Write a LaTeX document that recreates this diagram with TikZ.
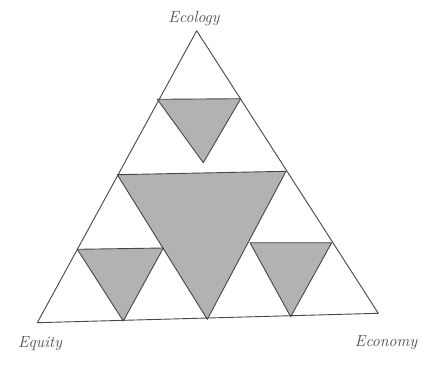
\documentclass[tikz,border=0pt]{standalone}
\begin{document}
\begin{tikzpicture}[x=1pt,y=-1pt,
  edge/.style={draw=black!72,line width=0.9pt,line join=round},
  shade/.style={fill=black!30},
  lbl/.style={font=\fontsize{16}{19}\selectfont\itshape,text=black!70,inner sep=0pt}]
\useasboundingbox (0,0) rectangle (424,368);
\fill[white] (0,0) rectangle (424,368);
% main corners
\coordinate (A) at (196.7,30.7);
\coordinate (B) at (37.3,322.7);
\coordinate (C) at (378.3,313.3);
% midpoints
\coordinate (L) at (117.3,174.7);
\coordinate (R) at (286,171.3);
\coordinate (M) at (207.3,319.3);
% top sub
\coordinate (T1) at (157.3,99.3);
\coordinate (T2) at (240.7,98.7);
\coordinate (T3) at (203.3,162.7);
% bottom-left sub
\coordinate (P1) at (77.3,249.3);
\coordinate (P2) at (163.3,248);
\coordinate (P3) at (123.3,321);
% bottom-right sub
\coordinate (Q1) at (250,242.7);
\coordinate (Q2) at (331.7,242.7);
\coordinate (Q3) at (290.7,316.7);
% shading
\path[shade] (L) -- (R) -- (M) -- cycle;
\path[shade] (T1) -- (T2) -- (T3) -- cycle;
\path[shade] (P1) -- (P2) -- (P3) -- cycle;
\path[shade] (Q1) -- (Q2) -- (Q3) -- cycle;
% outlines
\draw[edge] (A) -- (B) -- (C) -- cycle;
\draw[edge] (L) -- (R) -- (M) -- cycle;
\draw[edge] (T1) -- (T2) -- (T3) -- cycle;
\draw[edge] (P1) -- (P2) -- (P3) -- cycle;
\draw[edge] (Q1) -- (Q2) -- (Q3) -- cycle;
% labels
\node[lbl] (eco) at (194,19) {Ecology};
\node[lbl] (equ) at (40,344) {Equity};
\node[lbl] (econ) at (386,343) {Economy};
\end{tikzpicture}
\end{document}
